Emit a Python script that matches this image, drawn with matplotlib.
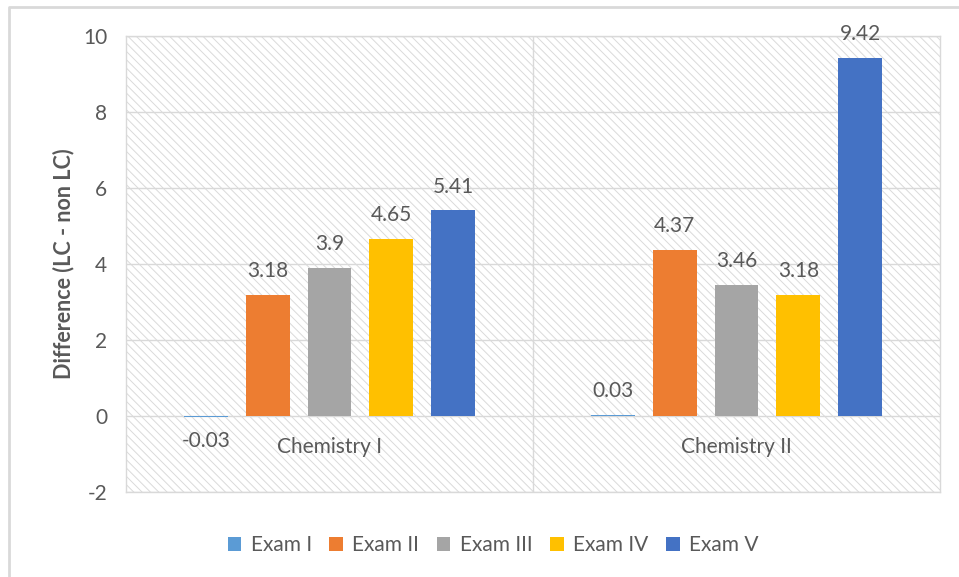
from __future__ import annotations

import matplotlib

matplotlib.use("Agg")
import matplotlib.pyplot as plt
import numpy as np
from matplotlib.lines import Line2D
from matplotlib.patches import Rectangle


COURSES = ["Chemistry I", "Chemistry II"]
EXAMS = ["Exam I", "Exam II", "Exam III", "Exam IV", "Exam V"]
DIFF = {
    "Exam I": [-0.03, 0.03],
    "Exam II": [3.18, 4.37],
    "Exam III": [3.9, 3.46],
    "Exam IV": [4.65, 3.18],
    "Exam V": [5.41, 9.42],
}
Y_TICKS = [-2, 0, 2, 4, 6, 8, 10]

COLORS = {
    "Exam I": "#5B9BD5",
    "Exam II": "#ED7D31",
    "Exam III": "#A5A5A5",
    "Exam IV": "#FFC000",
    "Exam V": "#4472C4",
    "text": "#595959",
    "grid": "#D9D9D9",
    "hatch": "#DADADA",
    "frame": "#D9D9D9",
}


def setup_style() -> None:
    plt.rcParams.update(
        {
            "font.family": ["Lato", "DejaVu Sans"],
            "font.size": 15,
            "hatch.linewidth": 0.7,
            "axes.unicode_minus": False,
            "figure.dpi": 100,
        }
    )


def plot_chart(out_path: str) -> None:
    setup_style()
    fig = plt.figure(figsize=(9.59, 5.77))
    ax = fig.add_axes([126 / 959, 1 - 492 / 577, (940 - 126) / 959, (492 - 36) / 577])

    # hatched plot area background, like the Excel pattern fill
    ax.add_patch(
        Rectangle((0, 0), 1, 1, transform=ax.transAxes, facecolor="white",
                  edgecolor=COLORS["hatch"], hatch="\\\\\\\\", linewidth=0, zorder=0)
    )

    x = np.arange(len(COURSES))
    step, width = 0.152, 0.108
    for i, exam in enumerate(EXAMS):
        vals = DIFF[exam]
        pos = x + (i - 2) * step
        ax.bar(pos, vals, width=width, color=COLORS[exam], label=exam, zorder=3)
        for px, v in zip(pos, vals):
            ax.annotate(
                f"{v:g}", (px, v), xytext=(0, 10 if v >= 0 else -10), textcoords="offset points",
                ha="center", va="bottom" if v >= 0 else "top", color=COLORS["text"], fontsize=15,
            )

    # category labels sit next to the zero line
    for xi, name in zip(x, COURSES):
        ax.annotate(name, (xi, 0), xytext=(0, -22), textcoords="offset points",
                    ha="center", va="center", color=COLORS["text"], fontsize=15)

    ax.set_xlim(-0.5, len(COURSES) - 0.5)
    ax.set_ylim(Y_TICKS[0], Y_TICKS[-1])
    ax.set_yticks(Y_TICKS)
    ax.set_xticks([])
    ax.tick_params(axis="y", length=0, pad=13.5, labelcolor=COLORS["text"], labelsize=15)
    for y in Y_TICKS:
        ax.axhline(y, color=COLORS["grid"], lw=1.0, zorder=1)
    for b in np.arange(len(COURSES) - 1) + 0.5:
        ax.axvline(b, color=COLORS["grid"], lw=1.0, zorder=1)
    for sp in ax.spines.values():
        sp.set_color(COLORS["grid"])
        sp.set_linewidth(1.0)

    ax.set_ylabel("Difference (LC - non LC)", fontsize=15.5, fontweight="bold",
                  color=COLORS["text"], labelpad=6)

    fig.legend(
        loc="center", bbox_to_anchor=(493 / 959, 1 - 545 / 577), ncol=5, frameon=False,
        handlelength=0.65, handleheight=0.65, handletextpad=0.45, columnspacing=0.85,
        labelcolor=COLORS["text"], fontsize=15,
    )

    # outer chart frame (top and left edges visible in the crop)
    fig.add_artist(Line2D([9 / 959, 9 / 959, 1.0], [0.0, 1 - 7 / 577, 1 - 7 / 577],
                          transform=fig.transFigure, color=COLORS["frame"], lw=2))

    fig.savefig(out_path, dpi=100)
    plt.close(fig)


def main() -> None:
    plot_chart("out.png")


if __name__ == "__main__":
    main()
